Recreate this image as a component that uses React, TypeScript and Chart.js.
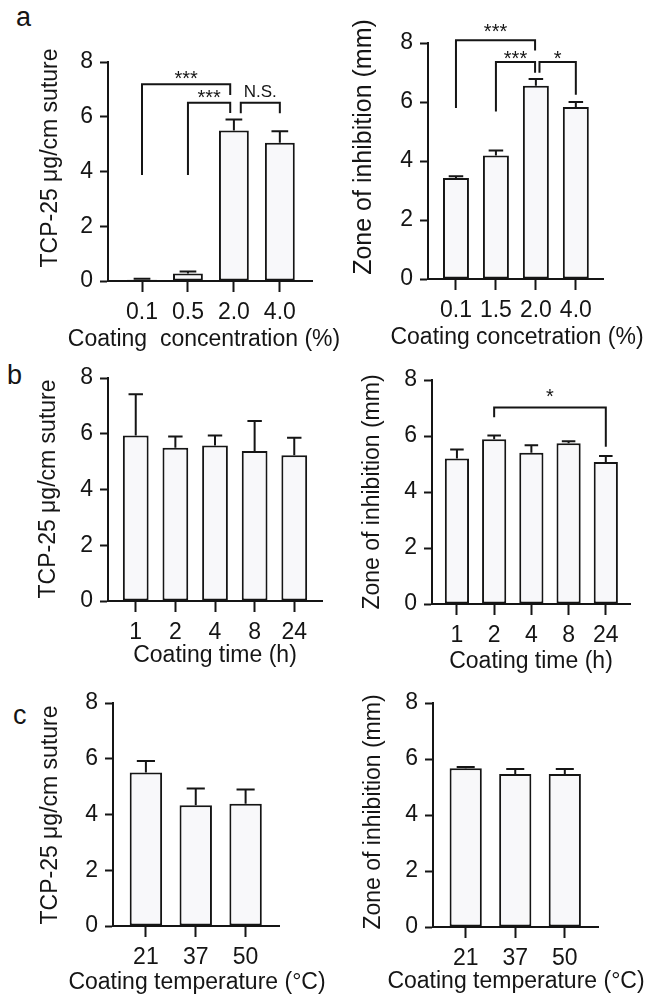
import React, { useEffect, useRef } from "react";
import { Chart, registerables } from "chart.js";

Chart.register(...registerables);

const FONT = "'Liberation Sans', Arial, Helvetica, sans-serif";
const INK = "#151515";
const BAR_FILL = "#f8f8fa";

// ---------- data ----------
const concCatsTcp = ["0.1", "0.5", "2.0", "4.0"];
const tcpConcMeans = [0.05, 0.27, 5.5, 5.05];
const tcpConcErrors = [0.03, 0.08, 0.4, 0.42];

const concCatsZoi = ["0.1", "1.5", "2.0", "4.0"];
const zoiConcMeans = [3.42, 4.19, 6.55, 5.83];
const zoiConcErrors = [0.06, 0.17, 0.23, 0.17];

const timeCats = ["1", "2", "4", "8", "24"];
const tcpTimeMeans = [5.94, 5.5, 5.58, 5.38, 5.23];
const tcpTimeErrors = [1.48, 0.4, 0.36, 1.08, 0.63];
const zoiTimeMeans = [5.2, 5.88, 5.4, 5.74, 5.07];
const zoiTimeErrors = [0.32, 0.14, 0.27, 0.07, 0.22];

const tempCats = ["21", "37", "50"];
const tcpTempMeans = [5.51, 4.33, 4.39];
const tcpTempErrors = [0.41, 0.6, 0.51];
const zoiTempMeans = [5.67, 5.46, 5.46];
const zoiTempErrors = [0.04, 0.18, 0.18];

const yMin = 0;
const yMax = 8;
const yStep = 2;

const tcpTitle = "TCP-25 μg/cm suture";
const zoiTitle = "Zone of inhibition (mm)";

// significance brackets: x in category units, y in value units
const bracketsTcpConc = [
  { x1: 0, x2: 1.92, y: 7.19, y1: 3.87, y2: 6.79, label: "***", labelY: 7.17, size: 20 },
  { x1: 1, x2: 1.92, y: 6.51, y1: 3.87, y2: 6.14, label: "***", labelY: 6.45, size: 20 },
  { x1: 2.15, x2: 3, y: 6.51, y1: 6.13, y2: 6.13, label: "N.S.", labelY: 6.72, size: 17 },
];
const bracketsZoiConc = [
  { x1: 0, x2: 1.98, y: 8.09, y1: 5.8, y2: 7.75, label: "***", labelY: 8.17, size: 20 },
  { x1: 1, x2: 1.98, y: 7.36, y1: 5.68, y2: 6.99, label: "***", labelY: 7.24, size: 20 },
  { x1: 2.09, x2: 3, y: 7.36, y1: 6.99, y2: 6.25, label: "*", labelY: 7.24, size: 20 },
];
const bracketsZoiTime = [
  { x1: 1, x2: 4, y: 7.02, y1: 6.67, y2: 5.62, label: "*", labelY: 7.18, size: 20 },
];

// ---------- layout (page pixels) ----------
const Y_AXIS_W = 100;
const PAD_TOP = 40;
const X_AXIS_H = 80;

type Bracket = { x1: number; x2: number; y: number; y1: number; y2: number; label: string; labelY: number; size: number };

type PanelSpec = {
  cats: string[];
  means: number[];
  errors: number[];
  xTitle: string;
  yTitle: string;
  yTitleSize: number;
  brackets: Bracket[];
  L: number; T: number; R: number; B: number;
  xMin: number; xMax: number;
  pr: number;
  yTitleX: number; yTitleY: number;
  xTitleX: number; xTitleY: number;
};

const panels: PanelSpec[] = [
  {
    cats: concCatsTcp, means: tcpConcMeans, errors: tcpConcErrors,
    xTitle: "Coating  concentration (%)", yTitle: tcpTitle, yTitleSize: 23, brackets: bracketsTcpConc,
    L: 108, T: 62, R: 312, B: 281, xMin: -0.74, xMax: 3.7, pr: 45,
    yTitleX: 51, yTitleY: 158, xTitleX: 204, xTitleY: 340,
  },
  {
    cats: concCatsZoi, means: zoiConcMeans, errors: zoiConcErrors,
    xTitle: "Coating concetration (%)", yTitle: zoiTitle, yTitleSize: 25, brackets: bracketsZoiConc,
    L: 428, T: 43, R: 603, B: 279, xMin: -0.7, xMax: 3.68, pr: 50,
    yTitleX: 364, yTitleY: 147, xTitleX: 517, xTitleY: 338,
  },
  {
    cats: timeCats, means: tcpTimeMeans, errors: tcpTimeErrors,
    xTitle: "Coating time (h)", yTitle: tcpTitle, yTitleSize: 23, brackets: [],
    L: 108, T: 378, R: 322, B: 601, xMin: -0.7, xMax: 4.7, pr: 10,
    yTitleX: 49, yTitleY: 489, xTitleX: 215, xTitleY: 656,
  },
  {
    cats: timeCats, means: zoiTimeMeans, errors: zoiTimeErrors,
    xTitle: "Coating time (h)", yTitle: zoiTitle, yTitleSize: 23, brackets: bracketsZoiTime,
    L: 432, T: 380, R: 630, B: 604, xMin: -0.67, xMax: 4.65, pr: 20,
    yTitleX: 373, yTitleY: 492, xTitleX: 531, xTitleY: 662,
  },
  {
    cats: tempCats, means: tcpTempMeans, errors: tcpTempErrors,
    xTitle: "Coating temperature (°C)", yTitle: tcpTitle, yTitleSize: 23, brackets: [],
    L: 113, T: 703, R: 279, B: 926, xMin: -0.66, xMax: 2.67, pr: 50,
    yTitleX: 51, yTitleY: 815, xTitleX: 197, xTitleY: 983,
  },
  {
    cats: tempCats, means: zoiTempMeans, errors: zoiTempErrors,
    xTitle: "Coating temperature (°C)", yTitle: zoiTitle, yTitleSize: 23, brackets: [],
    L: 433, T: 703, R: 598, B: 927, xMin: -0.66, xMax: 2.67, pr: 50,
    yTitleX: 374, yTitleY: 812, xTitleX: 516, xTitleY: 982,
  },
];

function canvasBox(p: PanelSpec) {
  const cx = p.L - Y_AXIS_W;
  const cy = p.T - PAD_TOP;
  const cw = p.R + p.pr - cx;
  const ch = p.B + X_AXIS_H - cy;
  return { cx, cy, cw, ch };
}

function buildConfig(p: PanelSpec): any {
  const { cx, cy } = canvasBox(p);
  const overlay = {
    id: "overlay",
    afterDatasetsDraw(chart: any) {
      const ctx = chart.ctx;
      const ys = chart.scales.y;
      const xs = chart.scales.x;
      const meta = chart.getDatasetMeta(0);
      ctx.save();
      ctx.strokeStyle = INK;
      ctx.lineWidth = 2;
      ctx.lineCap = "butt";
      // error bars (upper only)
      meta.data.forEach((bar: any, i: number) => {
        const x = bar.x;
        const yTop = bar.y;
        const yE = ys.getPixelForValue(p.means[i] + p.errors[i]);
        const half = bar.width * 0.28;
        ctx.beginPath();
        ctx.moveTo(x, yTop);
        ctx.lineTo(x, yE);
        ctx.moveTo(x - half, yE);
        ctx.lineTo(x + half, yE);
        ctx.stroke();
      });
      // brackets
      ctx.fillStyle = INK;
      ctx.textAlign = "center";
      ctx.textBaseline = "alphabetic";
      p.brackets.forEach((b) => {
        const px1 = xs.getPixelForValue(b.x1);
        const px2 = xs.getPixelForValue(b.x2);
        const py = ys.getPixelForValue(b.y);
        ctx.beginPath();
        ctx.moveTo(px1, ys.getPixelForValue(b.y1));
        ctx.lineTo(px1, py);
        ctx.lineTo(px2, py);
        ctx.lineTo(px2, ys.getPixelForValue(b.y2));
        ctx.stroke();
        ctx.font = `${b.size}px ${FONT}`;
        ctx.fillText(b.label, (px1 + px2) / 2, ys.getPixelForValue(b.labelY));
      });
      // x-axis title
      ctx.font = `23px ${FONT}`;
      ctx.textBaseline = "middle";
      ctx.fillText(p.xTitle, p.xTitleX - cx, p.xTitleY - cy);
      // y-axis title
      ctx.font = `${p.yTitleSize}px ${FONT}`;
      ctx.translate(p.yTitleX - cx, p.yTitleY - cy);
      ctx.rotate(-Math.PI / 2);
      ctx.fillText(p.yTitle, 0, 0);
      ctx.restore();
    },
  };

  return {
    type: "bar",
    data: {
      datasets: [
        {
          label: p.yTitle,
          data: p.means.map((v, i) => ({ x: i, y: v })),
          backgroundColor: BAR_FILL,
          borderColor: INK,
          borderWidth: 2,
          borderSkipped: false,
          categoryPercentage: 1,
          barPercentage: 0.65,
        },
      ],
    },
    options: {
      responsive: false,
      animation: false,
      devicePixelRatio: 1,
      layout: { padding: { top: PAD_TOP, right: p.pr, left: 0, bottom: 0 } },
      plugins: { legend: { display: false }, tooltip: { enabled: false } },
      scales: {
        x: {
          type: "linear",
          offset: false,
          min: p.xMin,
          max: p.xMax,
          afterBuildTicks: (s: any) => {
            s.ticks = p.cats.map((_, i) => ({ value: i }));
          },
          afterFit: (s: any) => {
            s.height = X_AXIS_H;
          },
          grid: { display: true, offset: false, drawOnChartArea: false, drawTicks: true, tickLength: 11, tickColor: INK, tickWidth: 2 },
          border: { display: true, color: INK, width: 2 },
          ticks: {
            autoSkip: false,
            maxRotation: 0,
            padding: 7,
            color: INK,
            font: { family: FONT, size: 23 },
            callback: (_v: any, i: number) => p.cats[i],
          },
          title: { display: false, text: p.xTitle },
        },
        y: {
          min: yMin,
          max: yMax,
          afterFit: (s: any) => {
            s.width = Y_AXIS_W;
          },
          grid: { display: true, drawOnChartArea: false, drawTicks: true, tickLength: 8, tickColor: INK, tickWidth: 2 },
          border: { display: true, color: INK, width: 2 },
          ticks: {
            stepSize: yStep,
            padding: 7,
            color: INK,
            font: { family: FONT, size: 23 },
          },
          title: { display: false, text: p.yTitle },
        },
      },
    },
    plugins: [overlay],
  };
}

function Panel({ spec }: { spec: PanelSpec }) {
  const ref = useRef<HTMLCanvasElement>(null);
  const { cx, cy, cw, ch } = canvasBox(spec);
  useEffect(() => {
    const chart = new Chart(ref.current as HTMLCanvasElement, buildConfig(spec));
    return () => chart.destroy();
  }, [spec]);
  return (
    <canvas
      ref={ref}
      width={cw}
      height={ch}
      style={{ position: "absolute", left: cx, top: cy, width: cw, height: ch }}
    />
  );
}

const letterStyle = (left: number, top: number): React.CSSProperties => ({
  position: "absolute",
  left,
  top,
  fontFamily: FONT,
  fontSize: 27,
  lineHeight: "27px",
  color: INK,
});

export default function App() {
  return (
    <div style={{ position: "absolute", left: 0, top: 0, width: 653, height: 1001, background: "#fff", overflow: "hidden" }}>
      <div style={letterStyle(16, 4)}>a</div>
      <div style={letterStyle(7, 362)}>b</div>
      <div style={letterStyle(13, 702)}>c</div>
      {panels.map((p, i) => (
        <Panel key={i} spec={p} />
      ))}
    </div>
  );
}
